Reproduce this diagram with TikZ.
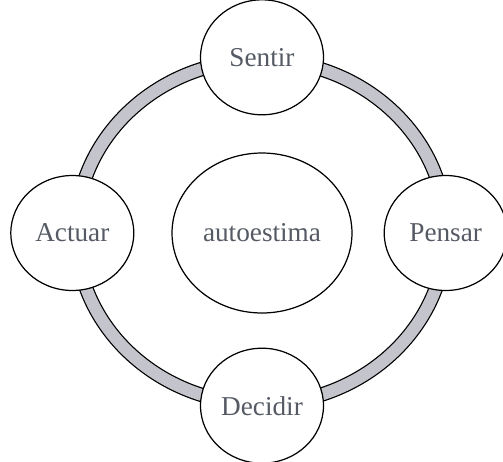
\documentclass[tikz,border=0pt]{standalone}
\usepackage{fontspec}
\setmainfont{Liberation Serif}
\usetikzlibrary{shapes.geometric,positioning}
\definecolor{txtgray}{RGB}{85,90,100}
\definecolor{ringgray}{RGB}{196,196,204}
\tikzstyle{stage} = [ellipse, minimum width=2.46cm, minimum height=2.3cm, inner sep=0pt, draw=black, line width=0.7pt, fill=white, text=txtgray, font=\fontsize{15.5}{18}\selectfont]
\tikzstyle{core} = [stage, minimum width=3.6cm, minimum height=3.2cm]
\tikzstyle{ring} = [line width=0.29cm, draw=black]
\tikzstyle{ringfill} = [line width=0.24cm, draw=ringgray]

\begin{document}
\begin{tikzpicture}[x=0.02cm, y=0.02cm, node distance=0.72cm]
   \useasboundingbox (0,0) rectangle (503,461);
   \coordinate (mid) at (261,229);
   % ring behind the stages
   \draw [ring] (mid) ellipse [x radius=185, y radius=172];
   \draw [ringfill] (mid) ellipse [x radius=185, y radius=172];
   \node (auto) [core] at (262,228) {autoestima};
   \node (sentir) [stage, above=0.74cm of auto] {Sentir};
   \node (decidir) [stage, below=0.68cm of auto] {Decidir};
   \node (actuar) [stage, left=0.74cm of auto] {Actuar};
   \node (pensar) [stage, right=0.62cm of auto] {Pensar};
\end{tikzpicture}
\end{document}
